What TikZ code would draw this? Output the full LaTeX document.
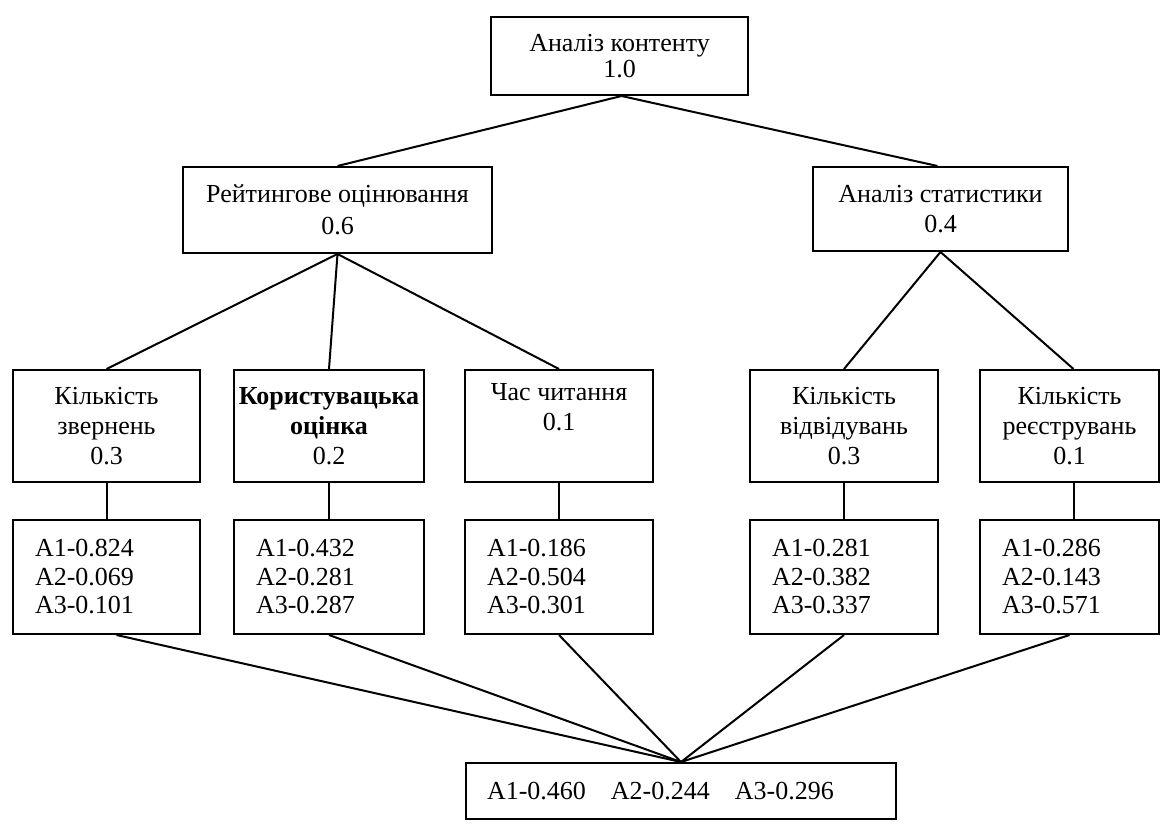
\documentclass[tikz,border=0pt]{standalone}
\usepackage{fontspec}
\setmainfont{Liberation Serif}
\begin{document}
\begin{tikzpicture}[x=1pt,y=-1pt,
  box/.style={draw, line width=2pt, inner sep=2pt, align=center,
    font=\fontsize{26}{30}\selectfont},
  res/.style={box, align=left, inner xsep=22pt,
    font=\fontsize{26}{28.5}\selectfont},
  link/.style={line width=2pt}]
\useasboundingbox (0,0) rectangle (1161,824);
\fill[white] (0,0) rectangle (1161,824);

% root
\node[box, minimum width=257pt, minimum height=78pt,
  font=\fontsize{26}{26}\selectfont] (root) at (619.5,56)
  {Аналіз контенту\\1.0};

% second level
\node[box, minimum width=309pt, minimum height=86pt,
  font=\fontsize{26}{32}\selectfont] (rate) at (337.5,210)
  {Рейтингове оцінювання\\0.6};
\node[box, minimum width=255pt, minimum height=84pt,
  font=\fontsize{26}{30}\selectfont] (stat) at (940.5,209)
  {Аналіз статистики\\0.4};

% criteria
\node[box, minimum width=187pt, minimum height=112pt] (c1) at (106.5,426)
  {Кількість\\звернень\\0.3};
\node[box, minimum width=190pt, minimum height=112pt] (c2) at (329,426)
  {\textbf{Користувацька}\\\textbf{оцінка}\\0.2};
\node[box, minimum width=188pt, minimum height=112pt] (c3) at (559,426)
  {Час читання\\0.1\\\strut};
\node[box, minimum width=188pt, minimum height=112pt] (c4) at (844,426)
  {Кількість\\відвідувань\\0.3};
\node[box, minimum width=179pt, minimum height=112pt] (c5) at (1069.5,426)
  {Кількість\\реєструвань\\0.1};

% alternative scores per criterion
\node[res, text width=143pt, minimum height=114pt] (a1) at (106.5,577)
  {A1-0.824\\A2-0.069\\A3-0.101};
\node[res, text width=146pt, minimum height=114pt] (a2) at (329,577)
  {A1-0.432\\A2-0.281\\A3-0.287};
\node[res, text width=144pt, minimum height=114pt] (a3) at (559,577)
  {A1-0.186\\A2-0.504\\A3-0.301};
\node[res, text width=144pt, minimum height=114pt] (a4) at (844,577)
  {A1-0.281\\A2-0.382\\A3-0.337};
\node[res, text width=135pt, minimum height=114pt] (a5) at (1069.5,577)
  {A1-0.286\\A2-0.143\\A3-0.571};

% overall result
\node[res, inner xsep=21pt, text width=388pt, minimum height=56pt] (total) at (681,791)
  {A1-0.460\hspace{25pt}A2-0.244\hspace{25pt}A3-0.296};

% connectors
\draw[link] ([xshift=2pt]root.south) -- (rate.north);
\draw[link] ([xshift=2pt]root.south) -- ([xshift=-3pt]stat.north);
\draw[link] (rate.south) -- (c1.north);
\draw[link] (rate.south) -- (c2.north);
\draw[link] (rate.south) -- (c3.north);
\draw[link] (stat.south) -- (c4.north);
\draw[link] (stat.south) -- ([xshift=4pt]c5.north);
\draw[link] (c1.south) -- (a1.north);
\draw[link] (c2.south) -- (a2.north);
\draw[link] (c3.south) -- (a3.north);
\draw[link] (c4.south) -- (a4.north);
\draw[link] ([xshift=4pt]c5.south) -- ([xshift=4pt]a5.north);
\draw[link] ([xshift=10pt]a1.south) -- (total.north);
\draw[link] (a2.south) -- (total.north);
\draw[link] (a3.south) -- (total.north);
\draw[link] (a4.south) -- (total.north);
\draw[link] (a5.south) -- (total.north);
\end{tikzpicture}
\end{document}
